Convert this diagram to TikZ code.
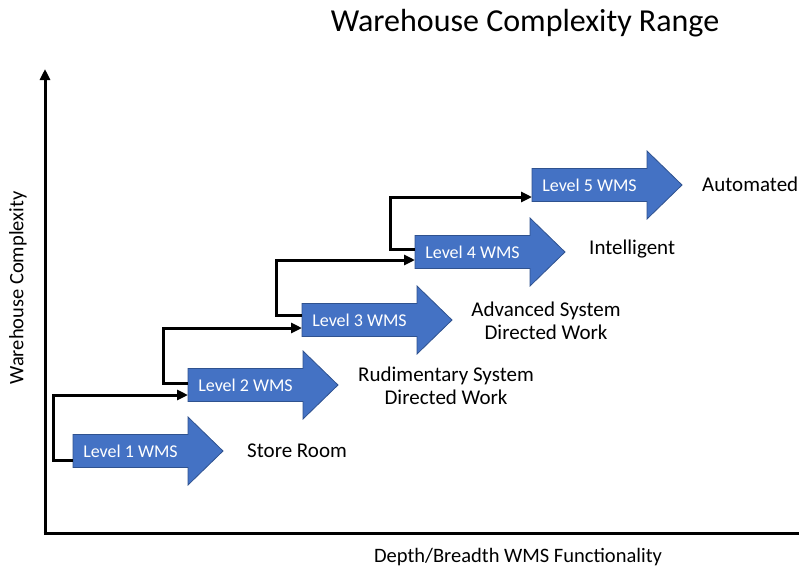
\documentclass[tikz,border=0pt]{standalone}
\usepackage{fontspec}
\setmainfont{Carlito}
\usetikzlibrary{arrows.meta,backgrounds}
\definecolor{wmsblue}{HTML}{4472C4}
\definecolor{wmsedge}{HTML}{2F528F}
\tikzset{
  levelbody/.style={minimum width=115pt, minimum height=33pt, inner sep=0pt, outer sep=0pt,
    text=white, font=\fontsize{18}{20}\selectfont},
  arrowshape/.style={fill=wmsblue, draw=wmsedge, line width=0.8pt, line join=miter},
  conn/.style={line width=3pt, -{Triangle[length=11pt,width=10pt]}},
  caption/.style={font=\fontsize{21}{23}\selectfont, inner sep=0pt},
  axisline/.style={line width=3pt},
}
\newcommand\wmsshape[1]{%
  \path[arrowshape] (#1.north west) -- (#1.north east) -- ([yshift=17.5pt]#1.north east)
    -- ([xshift=35pt]#1.east) -- ([yshift=-17.5pt]#1.south east) -- (#1.south east)
    -- (#1.south west) -- cycle;}
\begin{document}
\begin{tikzpicture}[x=1pt, y=-1pt]
\useasboundingbox (0,0) rectangle (799,570);

% axes
\coordinate (origin) at (45,533);
\coordinate (ytop) at (45,69);
\coordinate (xend) at (799,533);
\draw[axisline, -{Triangle[length=11pt,width=10pt]}] ([yshift=-1.5pt]origin) -- (ytop);
\draw[axisline] ([xshift=-1.5pt]origin) -- (xend);

% titles
\node[font=\fontsize{32}{34}\selectfont, inner sep=0pt] (title) at (525,23) {Warehouse Complexity Range};
\node[caption, font=\fontsize{20.5}{23}\selectfont] (xlabel) at (518,557) {Depth/Breadth WMS Functionality};
\node[caption, font=\fontsize{20.5}{23}\selectfont, rotate=90] (ylabel) at (18,288) {Warehouse Complexity};

% level arrows (body nodes; head drawn behind)
\node[levelbody] (a1) at (130.5,451) {Level 1 WMS};
\node[levelbody] (a2) at (245.5,385) {Level 2 WMS};
\node[levelbody] (a3) at (359.5,320) {Level 3 WMS};
\node[levelbody] (a4) at (472.5,252) {Level 4 WMS};
\node[levelbody] (a5) at (589.5,185) {Level 5 WMS};
\begin{pgfonlayer}{background}
  \wmsshape{a1}\wmsshape{a2}\wmsshape{a3}\wmsshape{a4}\wmsshape{a5}
\end{pgfonlayer}

% descriptions
\node[caption, anchor=west] (d1) at (247,451) {Store Room};
\node[caption, align=center] (d2) at (446,386) {Rudimentary System\\Directed Work};
\node[caption, align=center] (d3) at (546,321) {Advanced System\\Directed Work};
\node[caption, anchor=west] (d4) at (589,249) {Intelligent};
\node[caption, anchor=west] (d5) at (702,184) {Automated};

% step connectors
\draw[conn] ([yshift=-9pt]a1.west) -- ++(-20,0) |- ([yshift=-10pt]a2.west);
\draw[conn] ([yshift=2pt]a2.west) -- ++(-25,0) |- ([yshift=-8pt]a3.west);
\draw[conn] ([yshift=5pt]a3.west) -- ++(-26,0) |- ([yshift=-8pt]a4.west);
\draw[conn] ([yshift=3pt]a4.west) -- ++(-25,0) |- ([yshift=-12pt]a5.west);
\end{tikzpicture}
\end{document}
